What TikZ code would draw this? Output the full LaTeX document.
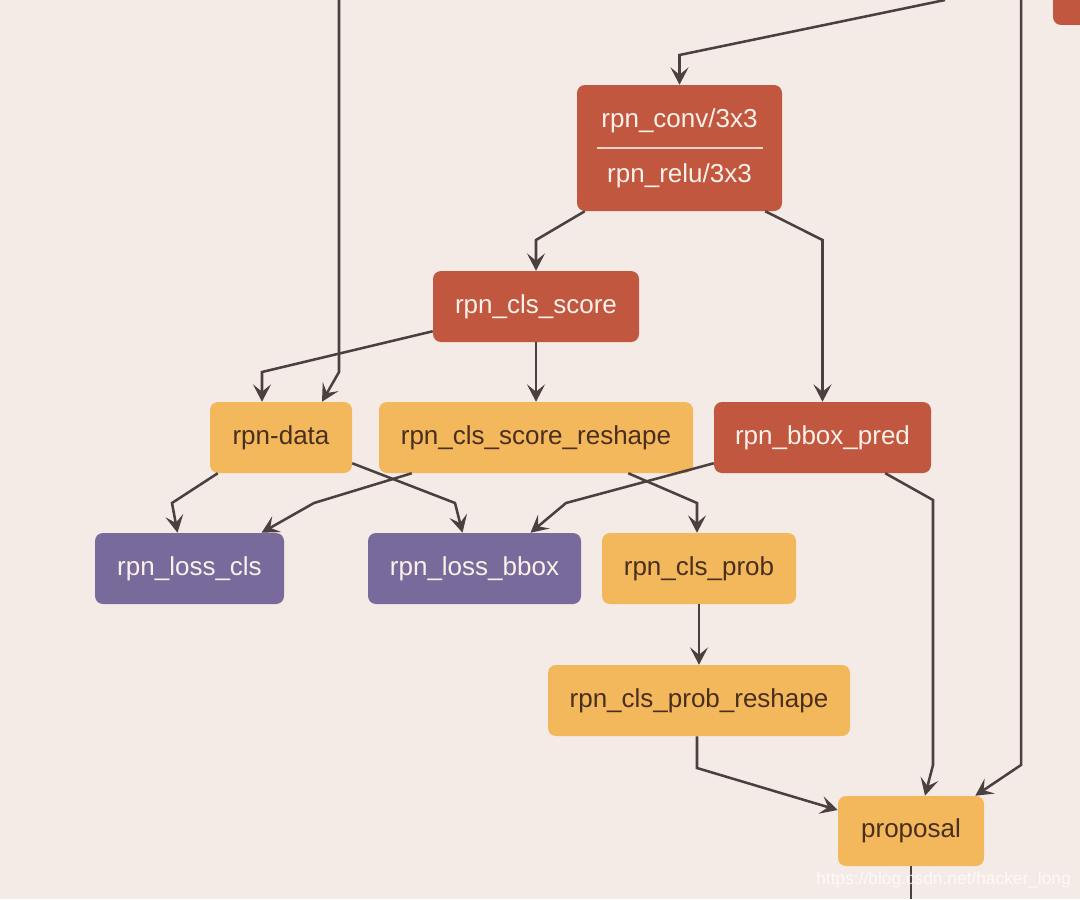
\documentclass[tikz,border=0pt]{standalone}
\usepackage{fontspec}
\setmainfont{Liberation Sans}
\usetikzlibrary{arrows.meta,calc}
\definecolor{bgc}{HTML}{F5EBE6}
\definecolor{redc}{HTML}{C0573E}
\definecolor{orac}{HTML}{F3B85C}
\definecolor{purc}{HTML}{786A9B}
\definecolor{linec}{HTML}{4B4040}
\definecolor{darkt}{HTML}{4A2E1E}
\definecolor{lightt}{HTML}{FBF1EA}
\tikzset{
  box/.style={rectangle, rounded corners=6pt, inner sep=0pt, font=\fontsize{19.5}{23}\selectfont, minimum height=53.25pt},
  redbox/.style={box, fill=redc, text=lightt},
  orabox/.style={box, fill=orac, text=darkt},
  purbox/.style={box, fill=purc, text=lightt},
  arr/.style={draw=linec, line width=1.9pt, line join=miter, -{Stealth[length=13pt,width=13.5pt,inset=5.5pt]}},
  plain/.style={draw=linec, line width=1.9pt}
}
\begin{document}
\begin{tikzpicture}[x=0.75pt,y=-0.75pt]
\fill[bgc] (0,0) rectangle (1080,899);
\useasboundingbox (0,0) rectangle (1080,899);
\begin{scope}
\clip (0,0) rectangle (1080,899);
% partial node at top right
\node[redbox, minimum width=60pt, minimum height=34.5pt] (topnode) at (1093,2) {};
% nodes
\node[redbox, minimum width=153.75pt, minimum height=94.5pt, align=center, font=\fontsize{19.5}{41.25}\selectfont] (conv) at (679.5,148) {rpn\_conv/3x3\\rpn\_relu/3x3};
\draw[lightt!80!redc, line width=0.8pt] ($(conv.west)+(20,0)$) -- ($(conv.east)+(-19,0)$);
\node[redbox, minimum width=154.5pt] (cls) at (536,306.5) {rpn\_cls\_score};
\node[orabox, minimum width=106.5pt] (rpndata) at (281,437.5) {rpn-data};
\node[orabox, minimum width=235.5pt] (reshape) at (536,437.5) {rpn\_cls\_score\_reshape};
\node[redbox, minimum width=162.75pt] (bbox) at (822.5,437.5) {rpn\_bbox\_pred};
\node[purbox, minimum width=141.75pt] (losscls) at (189.5,568.5) {rpn\_loss\_cls};
\node[purbox, minimum width=159.75pt] (lossbbox) at (474.5,568.5) {rpn\_loss\_bbox};
\node[orabox, minimum width=145.5pt] (clsprob) at (699,568.5) {rpn\_cls\_prob};
\node[orabox, minimum width=226.5pt] (probreshape) at (699,700.5) {rpn\_cls\_prob\_reshape};
\node[orabox, minimum width=109.5pt, minimum height=52.5pt] (proposal) at (911,831) {proposal};
% free ends
\coordinate (t1) at (945,0);
\coordinate (t2) at (1021,0);
\coordinate (t3) at (339,0);
\coordinate (b1) at (911,899);
% connectors
\draw[arr] (t1) -- (679.5,55) -- (conv);
\draw[arr] (t2) -- (1021,765) -- ($(proposal.north east)+(-9,0)$);
\draw[arr] (t3) -- (339,372) -- ($(rpndata.north)+(41,0)$);
\draw[arr] ($(conv.south west)+(8,0)$) -- (536,240) -- (cls);
\draw[arr] ($(conv.south east)+(-17,0)$) -- (822.5,240) -- (bbox);
\draw[arr] ($(cls.south west)+(0,-11)$) -- (262,372) -- ($(rpndata.north)+(-19,0)$);
\draw[arr] (cls) -- (reshape);
\draw[arr] ($(rpndata.south west)+(8,0)$) -- (172,503) -- ($(losscls.north)+(-12,0)$);
\draw[arr] ($(rpndata.south east)+(0,-10)$) -- (455,503) -- ($(lossbbox.north)+(-12,0)$);
\draw[arr] ($(reshape.south west)+(33,0)$) -- (314,503) -- ($(losscls.north)+(72,0)$);
\draw[arr] ($(reshape.south east)+(-65,0)$) -- (697,503) -- ($(clsprob.north)+(-2,0)$);
\draw[arr] ($(bbox.south west)+(0,-10)$) -- (566,503) -- ($(lossbbox.north)+(56,0)$);
\draw[arr] ($(bbox.south east)+(-46,0)$) -- (933,500) -- (933,765) -- ($(proposal.north)+(14,0)$);
\draw[arr] (clsprob) -- (probreshape);
\draw[arr] ($(probreshape.south)+(-2,0)$) -- (697,768) -- ($(proposal.west)+(0,-21)$);
\draw[plain] (proposal.south) -- (b1);
% watermark
\node[anchor=east, text=white, opacity=0.75, font=\fontsize{13}{15}\selectfont, inner sep=0pt] (wm) at (1071,880) {https://blog.csdn.net/hacker\_long};
\end{scope}
\end{tikzpicture}
\end{document}
